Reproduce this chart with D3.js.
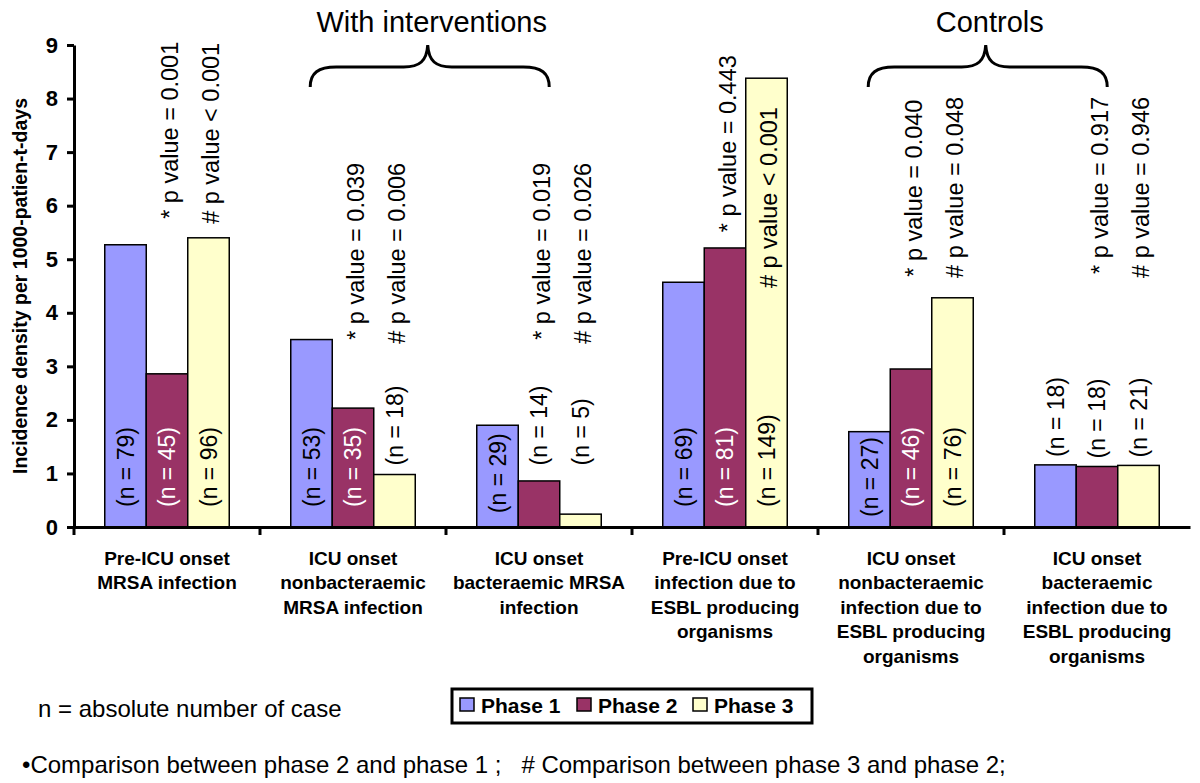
<!DOCTYPE html>
<html>
<head>
<meta charset="utf-8">
<script src="https://cdn.jsdelivr.net/npm/d3@7"></script>
<style>
  html, body { margin: 0; padding: 0; background: #fff; }
  svg { display: block; font-family: Arial, "Liberation Sans", sans-serif; }
</style>
</head>
<body>
<svg id="chart" width="1200" height="783"></svg>
<script>
// ---------- data ----------
const categories = [
  ["Pre-ICU onset", "MRSA infection"],
  ["ICU onset", "nonbacteraemic", "MRSA infection"],
  ["ICU onset", "bacteraemic MRSA", "infection"],
  ["Pre-ICU onset", "infection due to", "ESBL producing", "organisms"],
  ["ICU onset", "nonbacteraemic", "infection due to", "ESBL producing", "organisms"],
  ["ICU onset", "bacteraemic", "infection due to", "ESBL producing", "organisms"]
];
const phases = ["Phase 1", "Phase 2", "Phase 3"];
const phase1 = [5.27, 3.50, 1.90, 4.57, 1.78, 1.16];
const phase2 = [2.86, 2.22, 0.86, 5.21, 2.95, 1.13];
const phase3 = [5.40, 0.98, 0.24, 8.38, 4.28, 1.15];
const n1 = [79, 53, 29, 69, 27, 18];
const n2 = [45, 35, 14, 81, 46, 18];
const n3 = [96, 18, 5, 149, 76, 21];
const pStar = ["* p value = 0.001", "* p value = 0.039", "* p value = 0.019", "* p value = 0.443", "* p value = 0.040", "* p value = 0.917"];
const pHash = ["# p value < 0.001", "# p value = 0.006", "# p value = 0.026", "# p value < 0.001", "# p value = 0.048", "# p value = 0.946"];
// level (in axis units) where each p-value annotation ends
const pStarTop = [9.06, 6.80, 6.80, 8.81, 7.98, 8.03];
const pHashTop = [9.04, 6.80, 6.80, 7.84, 8.03, 8.03];
const yTicks = [0, 1, 2, 3, 4, 5, 6, 7, 8, 9];
const yTitle = "Incidence density per 1000-patien-t-days";
const groupLabels = [
  { text: "With interventions", from: 1, to: 2 },
  { text: "Controls", from: 4, to: 5 }
];
const noteN = "n = absolute number of case";
const noteCmp = "\u2022Comparison between phase 2 and phase 1 ;   # Comparison between phase 3 and phase 2;";

// ---------- layout ----------
const colors = ["#9999FF", "#993366", "#FFFFCC"];
const textColors = ["#000", "#fff", "#000"];
const values = [phase1, phase2, phase3];
const counts = [n1, n2, n3];

const svg = d3.select("#chart");
svg.append("rect").attr("width", 1200).attr("height", 783).attr("fill", "#fff");

const mLeft = 74, mRight = 1190, mTop = 45, mBottom = 527;
const idx = d3.range(categories.length);
const x0 = d3.scaleBand().domain(idx).range([mLeft, mRight]).padding(0);
const bw = x0.bandwidth();
const x1 = d3.scaleBand().domain([0, 1, 2]).range([(bw - 124.5) / 2, (bw + 124.5) / 2]).padding(0);
const y = d3.scaleLinear().domain([0, 9]).range([mBottom, mTop]);

// bars
const rows = [];
idx.forEach(g => [0, 1, 2].forEach(p => rows.push({ g, p, v: values[p][g], n: counts[p][g] })));

svg.append("g").selectAll("rect").data(rows).join("rect")
  .attr("x", d => x0(d.g) + x1(d.p))
  .attr("y", d => y(d.v))
  .attr("width", x1.bandwidth())
  .attr("height", d => y(0) - y(d.v))
  .attr("fill", d => colors[d.p])
  .attr("stroke", "#000")
  .attr("stroke-width", 1.5);

// n labels
const nG = svg.append("g").attr("font-size", 23);
rows.forEach(d => {
  const cx = x0(d.g) + x1(d.p) + x1.bandwidth() / 2;
  const t = nG.append("text")
    .attr("dy", "0.35em")
    .text(`(n = ${d.n})`);
  const len = t.node().getComputedTextLength();
  let by, fill;
  if (d.v >= 1.5) {
    by = Math.min(y(0) - 10, Math.max(y(0) - 20, y(d.v) + len + 8));
    fill = textColors[d.p];
  } else {
    by = y(Math.max(d.v, 1)) - 8;
    fill = "#000";
  }
  t.attr("transform", `translate(${cx},${by}) rotate(-90)`).attr("fill", fill);
});

// p-value annotations
const pG = svg.append("g").attr("font-size", 23.5).attr("text-anchor", "end");
idx.forEach(g => {
  const cx2 = x0(g) + x1(1) + x1.bandwidth() / 2 + 3;
  const cx3 = x0(g) + x1(2) + x1.bandwidth() / 2 + 2;
  pG.append("text").attr("dy", "0.35em")
    .attr("transform", `translate(${cx2},${y(pStarTop[g])}) rotate(-90)`)
    .text(pStar[g]);
  pG.append("text").attr("dy", "0.35em")
    .attr("transform", `translate(${cx3},${y(pHashTop[g])}) rotate(-90)`)
    .text(pHash[g]);
});

// y axis
const yAxis = svg.append("g")
  .attr("transform", `translate(${mLeft},0)`)
  .call(d3.axisLeft(y).tickValues(yTicks).tickFormat(d3.format("d")).tickSize(7).tickSizeOuter(0).tickPadding(9));
yAxis.select(".domain").attr("stroke", "#000").attr("stroke-width", 3);
yAxis.selectAll(".tick line").attr("stroke", "#000").attr("stroke-width", 3);
yAxis.selectAll(".tick text").attr("font-size", 22).attr("font-weight", "bold")
  .attr("font-family", "Arial, 'Liberation Sans', sans-serif").attr("fill", "#000");
svg.append("line").attr("x1", mLeft).attr("x2", mLeft).attr("y1", mBottom).attr("y2", mBottom + 8)
  .attr("stroke", "#000").attr("stroke-width", 3);

// x axis
const xAxis = svg.append("g")
  .attr("transform", `translate(0,${mBottom})`)
  .call(d3.axisBottom(x0).tickSize(0).tickSizeOuter(0).tickFormat(""));
xAxis.select(".domain").attr("stroke", "#000").attr("stroke-width", 3);
svg.append("g").selectAll("line").data(idx.slice(1)).join("line")
  .attr("x1", d => x0(d)).attr("x2", d => x0(d))
  .attr("y1", mBottom).attr("y2", mBottom + 8)
  .attr("stroke", "#000").attr("stroke-width", 3);

// category labels
const cG = svg.append("g").attr("font-size", 19).attr("font-weight", "bold").attr("text-anchor", "middle");
idx.forEach(g => {
  const t = cG.append("text").attr("x", x0(g) + bw / 2).attr("y", 565);
  categories[g].forEach((line, i) => {
    t.append("tspan").attr("x", x0(g) + bw / 2).attr("dy", i === 0 ? 0 : 24.4).text(line);
  });
});

// y title
svg.append("text")
  .attr("transform", `translate(20,${(mTop + mBottom) / 2}) rotate(-90)`)
  .attr("dy", "0.35em")
  .attr("text-anchor", "middle")
  .attr("font-size", 19.5).attr("font-weight", "bold")
  .text(yTitle);

// group braces
groupLabels.forEach(gl => {
  const xa = x0(gl.from) + bw * 0.27;
  const xb = x0(gl.to) + bw * 0.555;
  const mid = (xa + xb) / 2 - 2;
  const yl = 67, ye = 87, yp = 45;
  const path = `M${xa},${ye} C${xa},${yl + 6} ${xa + 8},${yl} ${xa + 26},${yl}
    L${mid - 24},${yl} C${mid - 8},${yl} ${mid - 1},${yl - 6} ${mid},${yp}
    C${mid + 1},${yl - 6} ${mid + 8},${yl} ${mid + 24},${yl}
    L${xb - 26},${yl} C${xb - 8},${yl} ${xb},${yl + 6} ${xb},${ye}`;
  svg.append("path").attr("d", path).attr("fill", "none").attr("stroke", "#000").attr("stroke-width", 3);
  svg.append("text").attr("x", mid + 4).attr("y", 32).attr("text-anchor", "middle")
    .attr("font-size", 29).text(gl.text);
});

// legend
const lg = svg.append("g");
lg.append("rect").attr("x", 452).attr("y", 689).attr("width", 360).attr("height", 34)
  .attr("fill", "#fff").attr("stroke", "#000").attr("stroke-width", 3);
const legX = [460, 577, 693];
phases.forEach((p, i) => {
  lg.append("rect").attr("x", legX[i]).attr("y", 698).attr("width", 14).attr("height", 13)
    .attr("fill", colors[i]).attr("stroke", "#000").attr("stroke-width", 1.5);
  lg.append("text").attr("x", legX[i] + 21).attr("y", 713)
    .attr("font-size", 21).attr("font-weight", "bold").text(p);
});

// notes
svg.append("text").attr("x", 38).attr("y", 717).attr("font-size", 24).text(noteN);
svg.append("text").attr("x", 22).attr("y", 773).attr("font-size", 24)
  .attr("xml:space", "preserve").style("white-space", "pre").text(noteCmp);
</script>
</body>
</html>
